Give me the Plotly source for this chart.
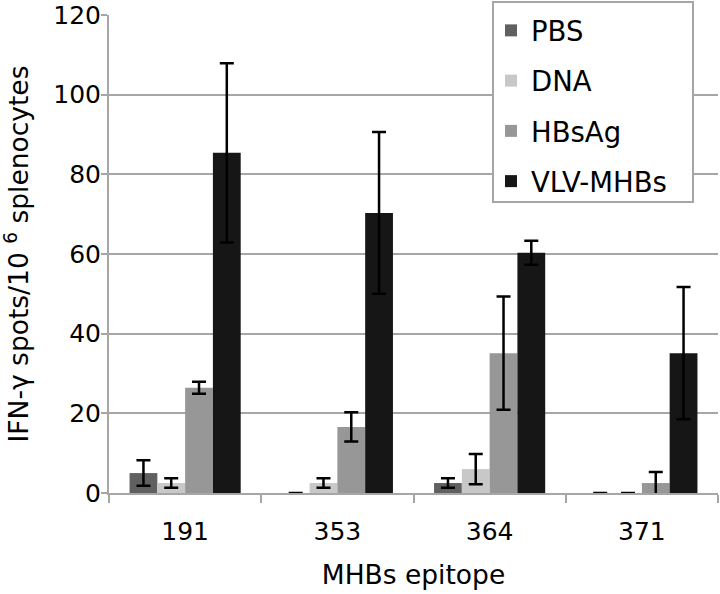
import plotly.graph_objects as go
import numpy as np

categories = ["191", "353", "364", "371"]
series_names = ["PBS", "DNA", "HBsAg", "VLV-MHBs"]
pbs = [5.0, 0.0, 2.5, 0.0]
pbs_err = [3.2, np.nan, 1.2, np.nan]
dna = [2.5, 2.5, 6.0, 0.0]
dna_err = [1.2, 1.2, 3.8, np.nan]
hbsag = [26.4, 16.6, 35.1, 2.5]
hbsag_err = [1.5, 3.7, 14.2, 2.8]
vlv = [85.4, 70.3, 60.3, 35.1]
vlv_err = [22.5, 20.3, 3.0, 16.6]
y_ticks = [0, 20, 40, 60, 80, 100, 120]

colors = ["#606060", "#c8c8c8", "#979797", "#161616"]
values = [pbs, dna, hbsag, vlv]
errors = [pbs_err, dna_err, hbsag_err, vlv_err]

FONT = "DejaVu Sans"
GRID = "#a6a6a6"

fig = go.Figure()
for name, v, e, c in zip(series_names, values, errors, colors):
    fig.add_trace(go.Bar(
        x=categories, y=v, name=name, legendgroup=name,
        marker=dict(color=c, line=dict(width=0)),
        error_y=dict(type="data", array=e, visible=True, color="black",
                     thickness=2.5, width=7),
    ))

W, H = 720, 594
L, R, T, B = 109, 2, 15, 101
pw, ph = W - L - R, H - T - B

def px(x):
    return (x - L) / pw

def py(y):
    return (H - B - y) / ph

fig.add_shape(type="rect", xref="paper", yref="paper",
              x0=px(493), x1=px(693), y0=py(202), y1=py(2),
              fillcolor="white", line=dict(color=GRID, width=2), layer="above")

fig.update_layout(
    width=W, height=H,
    margin=dict(l=L, r=R, t=T, b=B, autoexpand=False),
    paper_bgcolor="white", plot_bgcolor="white",
    barmode="group", bargap=0.27, bargroupgap=0,
    font=dict(family=FONT, color="black", size=24),
    showlegend=True,
    legend=dict(x=px(491), y=py(6), xanchor="left", yanchor="top",
                bgcolor="rgba(0,0,0,0)", borderwidth=0,
                font=dict(size=27.5, family=FONT),
                traceorder="grouped", tracegroupgap=11.5),
    xaxis=dict(
        type="category", tickson="boundaries", ticks="outside", ticklen=8,
        tickwidth=2, tickcolor=GRID, showline=True, linecolor=GRID, linewidth=2,
        showgrid=False, tickfont=dict(size=25), ticklabelstandoff=15,
        automargin=False,
        title=dict(text="MHBs epitope", font=dict(size=26.5), standoff=20),
    ),
    yaxis=dict(
        range=[0, 120], tickvals=y_ticks, ticks="outside", ticklen=6,
        tickwidth=2, tickcolor=GRID, showline=True, linecolor=GRID, linewidth=2,
        showgrid=True, gridcolor=GRID, gridwidth=2, zeroline=False,
        tickfont=dict(size=25), automargin=False, ticklabelstandoff=-5,
        title=dict(text="IFN-γ spots/10 <sup>6</sup> splenocytes", font=dict(size=26.5), standoff=33),
    ),
)

fig.write_html("out.html", config={"displayModeBar": False},
               post_script="document.body.style.margin='0';")
